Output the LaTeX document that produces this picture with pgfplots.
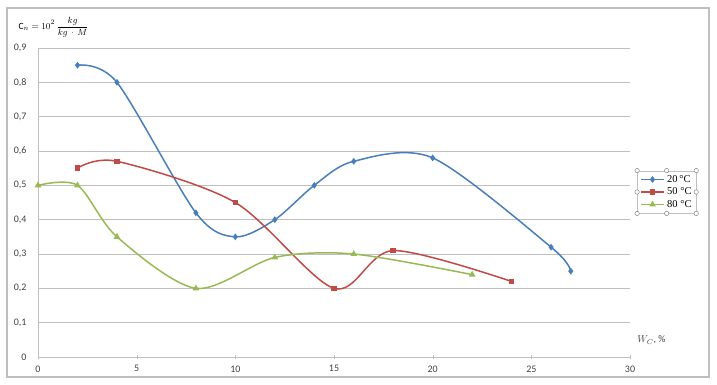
\documentclass[border=0pt]{standalone}
\usepackage{pgfplots}
\pgfplotsset{compat=1.18}
\usepackage{fontspec}
\setmainfont{Carlito}
\newfontfamily\legfont{Liberation Serif}
\definecolor{cblue}{HTML}{4A7EBB}
\definecolor{cred}{HTML}{BE4B48}
\definecolor{cgreen}{HTML}{98B954}
\definecolor{cgrid}{HTML}{BFBFBF}
\begin{document}
\begin{tikzpicture}[x=1pt,y=1pt]
\useasboundingbox (0,0) rectangle (717,384);
\draw[cgrid, line width=1.2pt] (7,7) rectangle (709,376);
\node[anchor=west, font=\fontsize{9.5}{11}\selectfont] at (15,357) {$\displaystyle\mathrm{C}_n = 10^2\,\frac{kg}{kg\,\cdot\, M}$};
\begin{axis}[
  at={(38pt,27pt)}, anchor=south west,
  scale only axis, width=592pt, height=309pt,
  xmin=0, xmax=30, ymin=0, ymax=0.9,
  xtick={0,5,...,30}, ytick={0,0.1,...,0.9},
  axis lines=left, axis line style={cgrid, -},
  ymajorgrids, major grid style={cgrid, line width=0.7pt},
  tick style={cgrid}, tick align=center, major tick length=4pt,
  ytick style={draw=none},
  tick label style={font=\fontsize{10}{12}\selectfont, text=black!75},
  xticklabel style={yshift=-3pt},
  yticklabel style={xshift=-6pt, /pgf/number format/fixed, /pgf/number format/precision=1},
  /pgf/number format/use comma, /pgf/number format/assume math mode=true,
  clip=false,
  legend style={at={(1.012,0.534)}, anchor=west, draw=cgrid, font=\legfont\fontsize{10.5}{12}\selectfont, inner sep=2.5pt, row sep=0pt, name=leg},
  legend image code/.code={\draw[mark repeat=2,mark phase=2] plot coordinates {(0cm,0cm) (0.42cm,0cm) (0.84cm,0cm)};},
  legend cell align=left,
]
\addplot[cblue, line width=1.5pt, smooth, tension=0.5, mark=diamond*, mark size=2.2pt, mark options={solid}] coordinates {
(2,0.85) (4,0.80) (8,0.42) (10,0.35) (12,0.40) (14,0.50) (16,0.57) (20,0.58) (26,0.32) (27,0.25)};
\addlegendentry{20\,°C}
\addplot[cred, line width=1.5pt, smooth, tension=0.5, mark=square*, mark size=2pt] coordinates {
(2,0.55) (4,0.57) (10,0.45) (15,0.20) (18,0.31) (24,0.22)};
\addlegendentry{50 °C}
\addplot[cgreen, line width=1.5pt, smooth, tension=0.5, mark=triangle*, mark size=2.4pt] coordinates {
(0,0.50) (2,0.50) (4,0.35) (8,0.20) (12,0.29) (16,0.30) (22,0.24)};
\addlegendentry{80 °C}
\node[anchor=west, font=\fontsize{10}{12}\selectfont, text=black!75] at (axis cs:30.2,0.05) {$W_C$, \%};
\end{axis}
\foreach \a in {north west,north,north east,east,south east,south,south west,west}
  \draw[cgrid!70!black, fill=white, line width=0.5pt] (leg.\a) circle (2.2pt);
\end{tikzpicture}
\end{document}
